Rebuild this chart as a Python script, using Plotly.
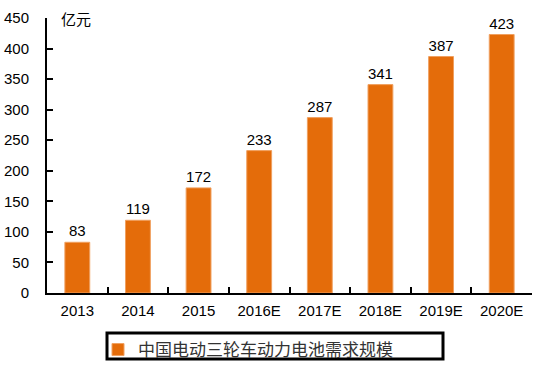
import plotly.graph_objects as go

categories = ["2013", "2014", "2015", "2016E", "2017E", "2018E", "2019E", "2020E"]
values = [83, 119, 172, 233, 287, 341, 387, 423]
series_name = "中国电动三轮车动力电池需求规模"
unit_label = "亿元"

W, H = 547, 383
ML, MR, MT, MB = 47, 15, 18, 90

fig = go.Figure()
fig.add_trace(go.Bar(
    x=categories, y=values, name=series_name,
    marker=dict(color="#E46C0A", line=dict(color="#F0A060", width=1)),
    width=0.41,
    text=[str(v) for v in values], textposition="outside",
    textfont=dict(family="Liberation Sans, Arial", size=15, color="#000000"),
    constraintext="none",
    cliponaxis=False,
))

fig.update_layout(
    width=W, height=H,
    margin=dict(l=ML, r=MR, t=MT, b=MB, pad=0, autoexpand=False),
    paper_bgcolor="white", plot_bgcolor="white",
    showlegend=True,
    legend=dict(
        orientation="h", xref="container", yref="container",
        x=98 / W, xanchor="left", y=1 - 332 / H, yanchor="top",
        font=dict(family="Noto Sans CJK SC", size=17, color="#333333"),
        bgcolor="rgba(0,0,0,0)", borderwidth=0,
        itemwidth=30,
    ),
    font=dict(family="Liberation Sans, Arial", size=15, color="#000000"),
)
fig.update_xaxes(
    type="category", showline=True, linecolor="#000000", linewidth=2,
    ticks="inside", ticklen=6, tickwidth=2, tickcolor="#000000",
    tickson="boundaries", showgrid=False, zeroline=False, automargin=False,
    ticklabelstandoff=3,
    tickfont=dict(family="Liberation Sans, Arial", size=15, color="#000000"),
)
fig.update_yaxes(
    range=[0, 450], dtick=50, showline=True, linecolor="#000000", linewidth=2,
    ticks="inside", ticklen=6, tickwidth=2, tickcolor="#000000",
    showgrid=False, zeroline=False, automargin=False,
    ticklabelstandoff=13,
    tickfont=dict(family="Liberation Sans, Arial", size=15, color="#000000"),
)

# unit label
fig.add_annotation(
    text=unit_label, xref="paper", yref="paper", x=0.025, y=1.0,
    xanchor="left", yanchor="middle", showarrow=False,
    font=dict(family="Noto Sans CJK SC", size=15, color="#000000"),
)

# legend frame
pw = W - ML - MR
ph = H - MT - MB
fig.add_shape(
    type="rect", xref="paper", yref="paper",
    x0=(107 - ML) / pw, x1=(443 - ML) / pw,
    y0=-(359 - (H - MB)) / ph, y1=-(333 - (H - MB)) / ph,
    line=dict(color="#000000", width=3), fillcolor="rgba(0,0,0,0)",
)

fig.write_html(
    "out.html",
    config={"displayModeBar": False},
    post_script="document.body.style.margin='0';document.body.style.padding='0';",
)
